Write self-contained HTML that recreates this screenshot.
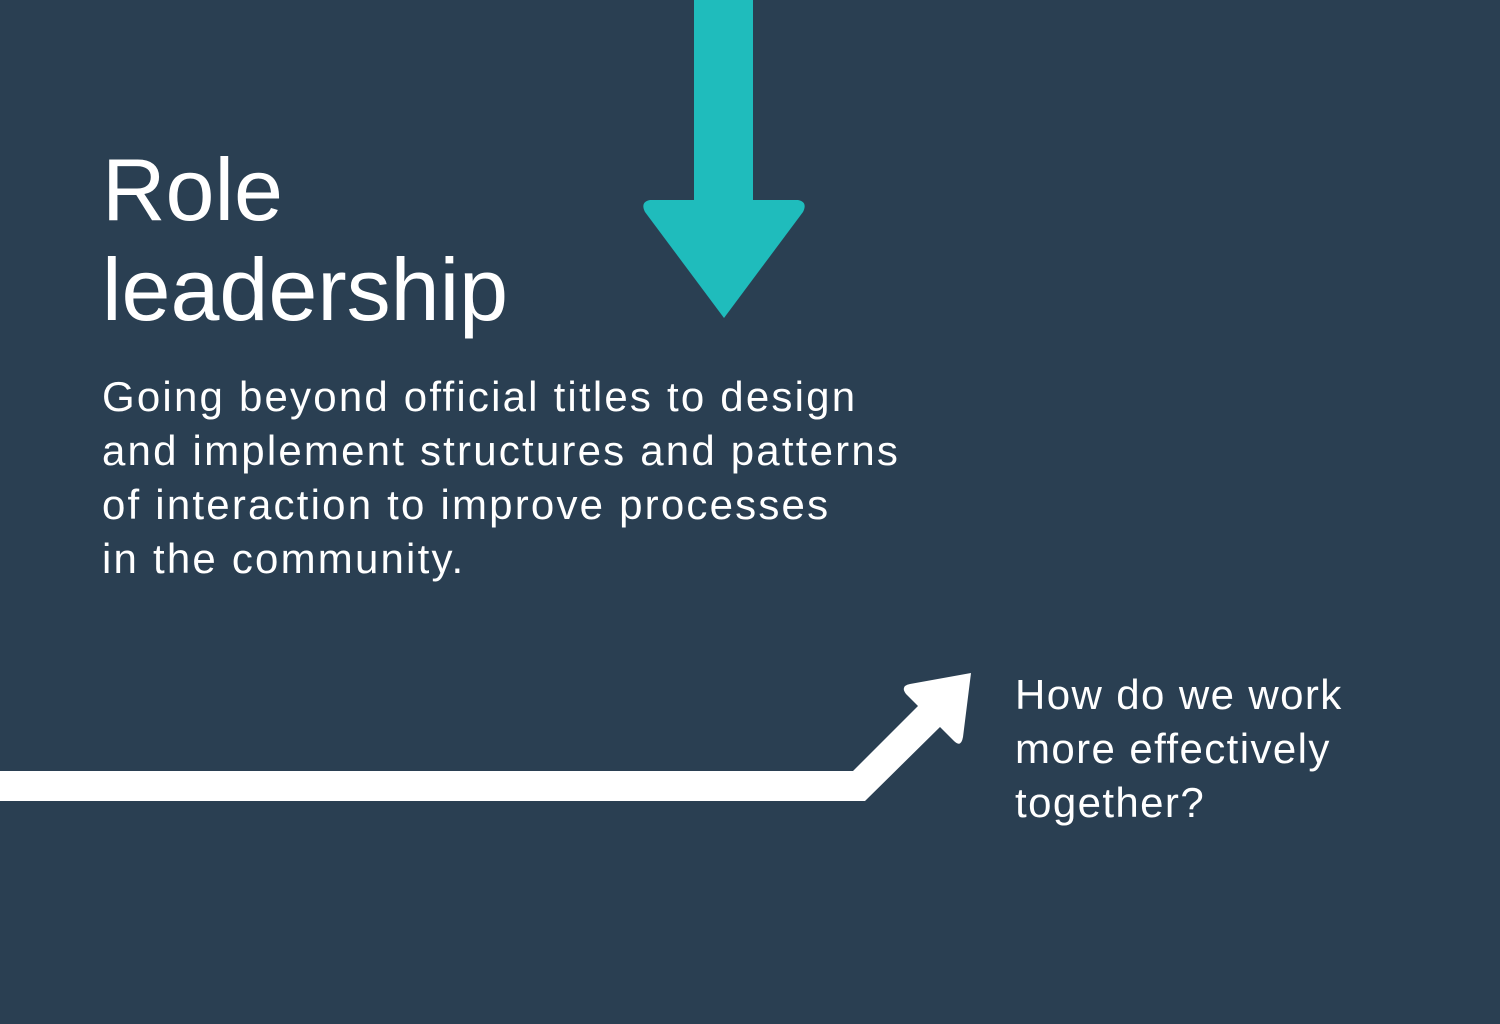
<!DOCTYPE html>
<html><head><style>
html,body{margin:0;padding:0}
body{width:1500px;height:1024px;background:#2a3f52;position:relative;overflow:hidden;font-family:"Liberation Sans",sans-serif;color:#fff}
.t{position:absolute;white-space:nowrap}
</style></head><body>
<svg width="1500" height="1024" style="position:absolute;left:0;top:0">
<rect x="694" y="0" width="59" height="202" fill="#1fbcbc"/>
<path d="M650 200 L798 200 Q808 202 803 212 L724 318 L645 212 Q640 202 650 200 Z" fill="#1fbcbc"/>
<path d="M0 771 L853 771 L918 706 L906 694 Q900 686 910 684 L971 673 L963 737 Q961 748 954 741 L940 727 L865 801 L0 801 Z" fill="#fff"/>
</svg>
<div class="t" style="left:102px;top:140px;font-size:88px;line-height:100px">Role<br>leadership</div>
<div class="t" style="left:102px;top:370px;font-size:42px;line-height:54px;letter-spacing:2.2px">Going beyond official titles to design<br>and implement structures and patterns<br>of interaction to improve processes<br>in the community.</div>
<div class="t" style="left:1015px;top:668px;font-size:42px;line-height:54px;letter-spacing:1.4px">How do we work<br>more effectively<br>together?</div>
</body></html>
